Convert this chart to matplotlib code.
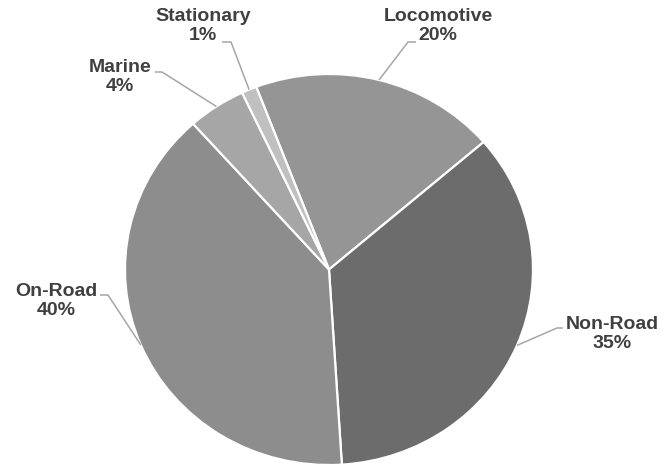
import matplotlib
matplotlib.use("Agg")
import matplotlib.pyplot as plt
import numpy as np

# Data
categories = ["Locomotive", "Non-Road", "On-Road", "Marine", "Stationary"]
values = [19.5, 35.3, 39.4, 4.6, 1.2]
pct_labels = ["20%", "35%", "40%", "4%", "1%"]
colors = ["#959595", "#6c6c6c", "#8d8d8d", "#a6a6a6", "#c0c0c0"]

W, H = 664, 467
fig = plt.figure(figsize=(W / 100, H / 100), dpi=100)
fig.patch.set_facecolor("white")

# pie area in pixels (slightly elliptical like the reference)
cx, cy, rx, ry = 329, 269.5, 204, 195.5
ax = fig.add_axes([(cx - rx) / W, (H - cy - ry) / H, 2 * rx / W, 2 * ry / H])
start = 90 + 20.9
wedges, _ = ax.pie(values, colors=colors, startangle=start, counterclock=False,
                   radius=1, wedgeprops=dict(edgecolor="white", linewidth=1.6))
ax.set_aspect("auto")
ax.set_xlim(-1, 1)
ax.set_ylim(-1, 1)
ax.axis("off")


def p2d(x, y):
    return ((x - cx) / rx, (cy - y) / ry)


# label layout in pixels: text center, elbow start, elbow end
layout = {
    "Locomotive": ((438, 26), (416, 42), (408, 42)),
    "Non-Road": ((612, 334), (563, 328), (557, 328)),
    "On-Road": ((56, 301), (100, 295), (108, 295)),
    "Marine": ((120, 77), (155, 72), (162, 72)),
    "Stationary": ((203, 26), (222, 42), (231, 42)),
}

for w, cat, lab in zip(wedges, categories, pct_labels):
    mid = np.deg2rad((w.theta1 + w.theta2) / 2)
    ex, ey = np.cos(mid), np.sin(mid)
    (tx, ty), a, b = layout[cat]
    pa, pb = p2d(*a), p2d(*b)
    ax.plot([pa[0], pb[0], ex], [pa[1], pb[1], ey], color="#a6a6a6", lw=1.1,
            clip_on=False, solid_capstyle="butt")
    ttx, tty = p2d(tx, ty)
    ax.text(ttx, tty, f"{cat}\n{lab}", ha="center", va="center",
            fontsize=14, fontweight="bold", color="#404040",
            family=["Liberation Sans", "DejaVu Sans"], linespacing=1.1,
            clip_on=False)

fig.savefig("out.png", dpi=100, facecolor="white")
